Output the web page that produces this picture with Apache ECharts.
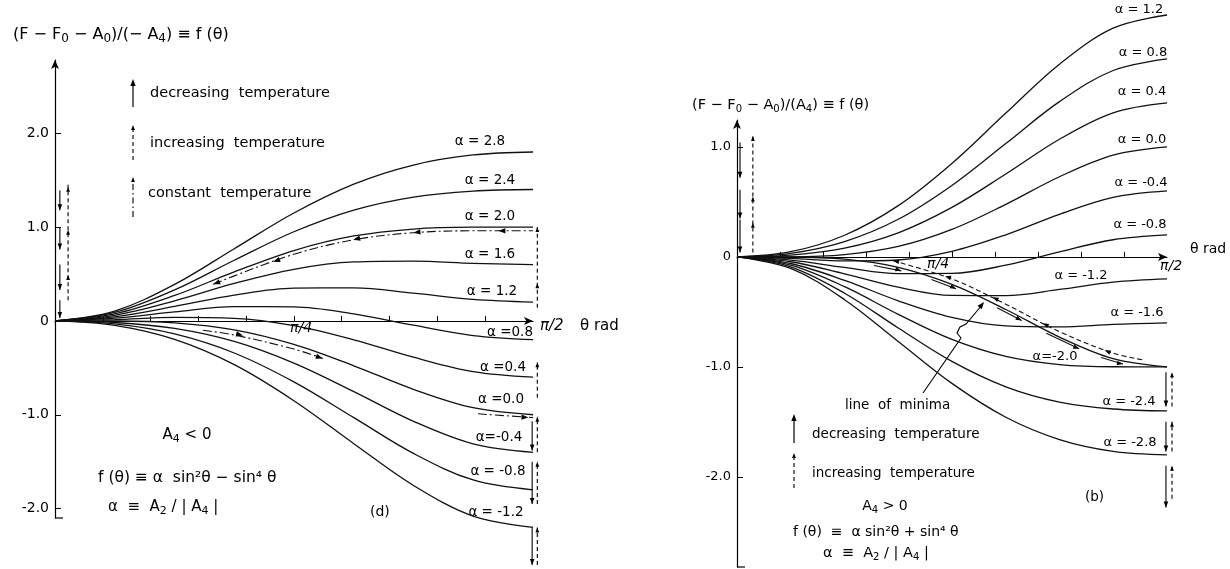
<!DOCTYPE html>
<html>
<head>
<meta charset="utf-8">
<script src="https://cdn.jsdelivr.net/npm/echarts@6/dist/echarts.min.js"></script>
<style>
html,body{margin:0;padding:0;background:#fff;}
#chart{width:1230px;height:569px;}
</style>
</head>
<body>
<div id="chart"></div>
<script>
// theta sample points (rad), 0 .. pi/2
var theta = [0, 0.196, 0.393, 0.589, 0.785, 0.982, 1.178, 1.374, 1.571];

// (d) A4 < 0 : one row per alpha
var alphaLeft = ['α = 2.8', 'α = 2.4', 'α = 2.0', 'α = 1.6', 'α = 1.2', 'α =0.8', 'α =0.4', 'α =0.0', 'α=-0.4', 'α = -0.8', 'α = -1.2'];
var fLeft = [
  [0, 0.105, 0.389, 0.769, 1.150, 1.458, 1.661, 1.768, 1.800],
  [0, 0.090, 0.330, 0.646, 0.950, 1.181, 1.320, 1.383, 1.400],
  [0, 0.075, 0.271, 0.522, 0.750, 0.905, 0.979, 0.999, 1.000],
  [0, 0.060, 0.213, 0.399, 0.550, 0.628, 0.637, 0.614, 0.600],
  [0, 0.044, 0.154, 0.275, 0.350, 0.352, 0.296, 0.229, 0.200],
  [0, 0.029, 0.096, 0.152, 0.150, 0.075, -0.046, -0.156, -0.200],
  [0, 0.014, 0.037, 0.028, -0.050, -0.201, -0.387, -0.541, -0.600],
  [0, -0.001, -0.021, -0.095, -0.250, -0.478, -0.729, -0.925, -1.000],
  [0, -0.017, -0.080, -0.219, -0.450, -0.754, -1.070, -1.310, -1.400],
  [0, -0.032, -0.139, -0.342, -0.650, -1.031, -1.412, -1.695, -1.800],
  [0, -0.047, -0.197, -0.466, -0.850, -1.308, -1.753, -2.080, -2.200]
];

// (b) A4 > 0
var alphaRight = ['α = 1.2', 'α = 0.8', 'α = 0.4', 'α = 0.0', 'α = -0.4', 'α = -0.8', 'α = -1.2', 'α = -1.6', 'α=-2.0', 'α = -2.4', 'α = -2.8'];
var fRight = [
  [0, 0.047, 0.197, 0.466, 0.850, 1.308, 1.753, 2.080, 2.200],
  [0, 0.032, 0.139, 0.342, 0.650, 1.031, 1.412, 1.695, 1.800],
  [0, 0.017, 0.080, 0.219, 0.450, 0.754, 1.070, 1.310, 1.400],
  [0, 0.001, 0.021, 0.095, 0.250, 0.478, 0.729, 0.925, 1.000],
  [0, -0.014, -0.037, -0.028, 0.050, 0.201, 0.387, 0.541, 0.600],
  [0, -0.029, -0.096, -0.152, -0.150, -0.075, 0.046, 0.156, 0.200],
  [0, -0.044, -0.154, -0.275, -0.350, -0.352, -0.296, -0.229, -0.200],
  [0, -0.060, -0.213, -0.399, -0.550, -0.628, -0.637, -0.614, -0.600],
  [0, -0.075, -0.271, -0.522, -0.750, -0.905, -0.979, -0.999, -1.000],
  [0, -0.090, -0.330, -0.646, -0.950, -1.181, -1.320, -1.383, -1.400],
  [0, -0.105, -0.389, -0.769, -1.150, -1.458, -1.661, -1.768, -1.800]
];

// constant temperature paths (left), [theta, f]
var constUpper = [[0.52, 0.39], [0.589, 0.48], [0.785, 0.71], [0.982, 0.865], [1.178, 0.94], [1.374, 0.96], [1.571, 0.96]];
var constLower = [[0.486, -0.10], [0.589, -0.15], [0.785, -0.30], [0.88, -0.40], '-', [1.39, -0.99], [1.571, -1.03]];
var upperArrows = [[0.52, 0.39], [0.717, 0.63], [0.98, 0.865], [1.178, 0.94], [1.457, 0.96]];
var lowerArrows = [[0.618, -0.155], [0.88, -0.40], [1.556, -1.03]];

// line of minima (right) and the temperature paths along it
var fMinima = [0, -0.001, -0.021, -0.095, -0.250, -0.478, -0.729, -0.925, -1.000];
var minDashed = [[0.57, -0.035], [0.785, -0.20], [0.982, -0.43], [1.178, -0.68], [1.374, -0.875], [1.49, -0.94]];
var minSolid = [[0.50, -0.078], [0.60, -0.127], '-', [0.71, -0.205], [0.80, -0.290], '-', [0.95, -0.463], [1.04, -0.578], '-',
  [1.13, -0.694], [1.25, -0.836], '-', [1.33, -0.914], [1.41, -0.974]];
var minDashedArrows = [[0.57, -0.035], [0.76, -0.175], [0.934, -0.368], [1.117, -0.603], [1.343, -0.85]];
var minSolidArrows = [[0.60, -0.127], [0.80, -0.290], [1.04, -0.578], [1.25, -0.836], [1.41, -0.974]];

// vertical temperature arrows: [theta, from f, to f] (+ arrow heads for dashed)
var leftSolidDown = [[0.016, 1.39, 1.18], [0.016, 1.0, 0.76], [0.016, 0.6, 0.33], [0.016, 0.22, 0.03],
  [1.568, -1.07, -1.38], [1.568, -1.5, -1.95], [1.568, -2.2, -2.6]];
var leftDashedUp = [[0.043, 0.22, 1.45, [1.43, 0.97, 0.49]], [1.585, 0.14, 1.0, [1.0, 0.40]], [1.585, -0.82, -0.44, [-0.44]],
  [1.585, -1.4, -1.02, [-1.02]], [1.585, -1.95, -1.5, [-1.5]], [1.585, -2.6, -2.2, [-2.2]]];
var rightSolidDown = [[0.011, 1.04, 0.72], [0.011, 0.61, 0.35], [0.011, 0.34, 0.04],
  [1.567, -1.05, -1.36], [1.567, -1.5, -1.77], [1.567, -1.9, -2.28]];
var rightDashedUp = [[0.058, 0.04, 1.11, [1.1, 0.55, 0.31]], [1.589, -1.36, -1.05, [-1.05]],
  [1.589, -1.77, -1.5, [-1.5]], [1.589, -2.2, -1.9, [-1.9]]];

var xTicks = [0.157, 0.314, 0.471, 0.628, 0.785, 0.942, 1.100, 1.257, 1.414, 1.571];
var yTicksLeft = [-2, -1, 0, 1, 2];
var yTicksRight = [-2, -1, 0, 1];

var INK = '#000';
var FONT = '"DejaVu Sans", sans-serif';

var chart = echarts.init(document.getElementById('chart'));

function axisX(gi) {
  return {
    type: 'value', gridIndex: gi, min: 0, max: 1.5708,
    axisLine: {onZero: true, symbol: ['none', 'arrow'], symbolSize: [6, 9], lineStyle: {color: INK, width: 1.2}},
    axisTick: {show: true, inside: true, length: 5, customValues: xTicks, lineStyle: {color: INK, width: 1}},
    axisLabel: {show: false},
    splitLine: {show: false}
  };
}
function axisY(gi, mn, mx, ticks, fs) {
  return {
    type: 'value', gridIndex: gi, min: mn, max: mx,
    axisLine: {show: true, onZero: false, symbol: ['none', 'arrow'], symbolSize: [6, 9], lineStyle: {color: INK, width: 1.2}},
    axisTick: {show: true, inside: true, length: 6, customValues: ticks, lineStyle: {color: INK, width: 1}},
    axisLabel: {
      customValues: ticks, color: INK, fontFamily: FONT, fontSize: fs, margin: 6,
      formatter: function (v) { return v === 0 ? '0' : v.toFixed(1); }
    },
    splitLine: {show: false}
  };
}
function lineSeries(gi, data, style) {
  return {
    type: 'line', xAxisIndex: gi, yAxisIndex: gi, data: data,
    smooth: 0.35, symbol: 'none', clip: false, silent: true, connectNulls: false,
    lineStyle: Object.assign({color: '#111', width: 1.3}, style || {})
  };
}
function pairs(f) {
  return theta.map(function (t, i) { return [t, f[i]]; });
}

var series = [];
fLeft.forEach(function (f) { series.push(lineSeries(0, pairs(f))); });
fRight.forEach(function (f) { series.push(lineSeries(1, pairs(f))); });
series.push(lineSeries(0, constUpper, {width: 1.1, type: [9, 3, 2, 3]}));
series.push(lineSeries(0, constLower, {width: 1.1, type: [9, 3, 2, 3]}));
series.push(lineSeries(1, pairs(fMinima), {width: 1.3}));
series.push(lineSeries(1, minDashed, {width: 1.1, type: [5, 3]}));
series.push(lineSeries(1, minSolid, {width: 1.1}));

chart.setOption({
  animation: false,
  backgroundColor: '#fff',
  grid: [
    {left: 55, top: 60, width: 478, height: 458},
    {left: 737, top: 120, width: 430, height: 447}
  ],
  xAxis: [axisX(0), axisX(1)],
  yAxis: [axisY(0, -2.1, 2.78, yTicksLeft, 14), axisY(1, -2.82, 1.245, yTicksRight, 13)],
  series: series
});

// ---- annotations ----
function px(gi, p) { return chart.convertToPixel({gridIndex: gi}, p); }
function seg(a, b, dash, w) {
  return {type: 'line', silent: true, shape: {x1: a[0], y1: a[1], x2: b[0], y2: b[1]},
    style: {stroke: INK, lineWidth: w || 1.1, lineDash: dash || null}};
}
function headAt(p, d, size) {
  var L = Math.sqrt(d[0] * d[0] + d[1] * d[1]) || 1, ux = d[0] / L, uy = d[1] / L, w = size * 0.38;
  return {type: 'polygon', silent: true, shape: {points: [[p[0], p[1]],
    [p[0] - ux * size - uy * w, p[1] - uy * size + ux * w],
    [p[0] - ux * size + uy * w, p[1] - uy * size - ux * w]]}, style: {fill: INK}};
}
function pathDir(gi, guide, t, sign) {
  var g = guide.filter(function (q) { return q !== '-'; });
  var i = 0;
  while (i < g.length - 2 && t > g[i + 1][0]) i++;
  var a = px(gi, g[i]), b = px(gi, g[i + 1]);
  return [sign * (b[0] - a[0]), sign * (b[1] - a[1])];
}
// text with {s|..} subscripts drawn lower and smaller
function txt(x, y, s, size, opt) {
  opt = opt || {};
  var fam = FONT;
  return {type: 'text', silent: true, x: x, y: y, style: {
    text: s, fontSize: size, fontFamily: fam, fontStyle: opt.italic ? 'italic' : 'normal', fill: INK,
    lineHeight: size + 4,
    align: opt.align || 'left', textAlign: opt.align || 'left', verticalAlign: 'middle', textVerticalAlign: 'middle',
    rich: {
      s: {fontSize: Math.round(size * 0.72), fontFamily: fam, fill: INK, verticalAlign: 'bottom', lineHeight: Math.round(size * 0.72)}
    }}};
}

var g = [];
var DASH = [4, 3], DASHDOT = [6, 3, 1.5, 3];

[[0, leftSolidDown, leftDashedUp], [1, rightSolidDown, rightDashedUp]].forEach(function (set) {
  var gi = set[0];
  set[1].forEach(function (s) {
    var a = px(gi, [s[0], s[1]]), b = px(gi, [s[0], s[2]]);
    g.push(seg(a, b, null, 1.1));
    g.push(headAt(b, [0, 1], 6));
  });
  set[2].forEach(function (s) {
    var a = px(gi, [s[0], s[1]]), b = px(gi, [s[0], s[2]]);
    g.push(seg(a, b, DASH, 1.1));
    s[3].forEach(function (h) { g.push(headAt(px(gi, [s[0], h]), [0, -1], 5)); });
  });
});

upperArrows.forEach(function (p) { g.push(headAt(px(0, p), pathDir(0, constUpper, p[0], -1), 7)); });
lowerArrows.forEach(function (p) { g.push(headAt(px(0, p), pathDir(0, constLower, p[0], 1), 7)); });
var minGuide = pairs(fMinima);
minDashedArrows.forEach(function (p) { g.push(headAt(px(1, p), pathDir(1, minGuide, p[0], -1), 6)); });
minSolidArrows.forEach(function (p) { g.push(headAt(px(1, p), pathDir(1, minGuide, p[0], 1), 6)); });

// y axis feet
var l0 = px(0, [0, -2.1]), r0 = px(1, [0, -2.82]);
g.push(seg(l0, [l0[0] + 8, l0[1]], null, 1.2));
g.push(seg(r0, [r0[0] + 8, r0[1]], null, 1.2));

// legend arrows
g.push(seg([133, 107], [133, 82], null, 1.2)); g.push(headAt([133, 79], [0, -1], 7));
g.push(seg([133, 160], [133, 127], DASH, 1.1)); g.push(headAt([133, 125], [0, -1], 5));
g.push(seg([133, 217], [133, 179], DASHDOT, 1.1)); g.push(headAt([133, 177], [0, -1], 5));
g.push(seg([794, 443], [794, 417], null, 1.2)); g.push(headAt([794, 414], [0, -1], 7));
g.push(seg([794, 488], [794, 456], DASH, 1.1)); g.push(headAt([794, 453], [0, -1], 5));

// line of minima pointer
g.push({type: 'polyline', silent: true, shape: {points: [[923, 393], [961, 338], [957, 333], [960, 327], [966, 324], [982, 305]]},
  style: {stroke: INK, lineWidth: 1.1, fill: null}});
g.push(headAt([984, 302], [1, -1.25], 7));

// alpha labels
var leftLabelPos = [[480, 141], [490, 180], [490, 216], [490, 254], [492, 291], [510, 332], [503, 367], [501, 399], [499, 437], [498, 471], [496, 512]];
var rightLabelPos = [[1139, 10], [1143, 53], [1142, 92], [1142, 140], [1141, 183], [1140, 225], [1081, 276], [1137, 313], [1055, 357], [1129, 402], [1130, 443]];
alphaLeft.forEach(function (s, i) { g.push(txt(leftLabelPos[i][0], leftLabelPos[i][1], s, 13.5, {align: 'center'})); });
alphaRight.forEach(function (s, i) { g.push(txt(rightLabelPos[i][0], rightLabelPos[i][1], s, 13, {align: 'center'})); });

// left panel texts
g.push(txt(13, 35, '(F − F{s|0} − A{s|0})/(− A{s|4}) ≡ f (θ)', 16));
g.push(txt(150, 93, 'decreasing  temperature', 14.5));
g.push(txt(150, 143, 'increasing  temperature', 14.5));
g.push(txt(148, 193, 'constant  temperature', 14.5));
g.push(txt(187, 435, 'A{s|4} < 0', 15, {align: 'center'}));
g.push(txt(98, 478, 'f (θ) ≡ α  sin²θ − sin⁴ θ', 15.5));
g.push(txt(108, 507, 'α  ≡  A{s|2} / | A{s|4} |', 15));
g.push(txt(370, 512, '(d)', 14));
g.push(txt(290, 328, 'π/4', 14, {italic: true}));
g.push(txt(540, 326, 'π/2', 15, {italic: true}));
g.push(txt(580, 326, 'θ rad', 15));

// right panel texts
g.push(txt(692, 105, '(F − F{s|0} − A{s|0})/(A{s|4}) ≡ f (θ)', 14.5));
g.push(txt(845, 405, 'line  of  minima', 13.5));
g.push(txt(812, 434, 'decreasing  temperature', 13.5));
g.push(txt(812, 473, 'increasing  temperature', 13.5));
g.push(txt(885, 506, 'A{s|4} > 0', 14, {align: 'center'}));
g.push(txt(793, 532, 'f (θ)  ≡  α sin²θ + sin⁴ θ', 14));
g.push(txt(823, 553, 'α  ≡  A{s|2} / | A{s|4} |', 14.5));
g.push(txt(1085, 497, '(b)', 13.5));
g.push(txt(927, 264, 'π/4', 14, {italic: true}));
g.push(txt(1160, 266, 'π/2', 14, {italic: true}));
g.push(txt(1190, 249, 'θ rad', 14));

chart.setOption({graphic: g});
</script>
</body>
</html>
